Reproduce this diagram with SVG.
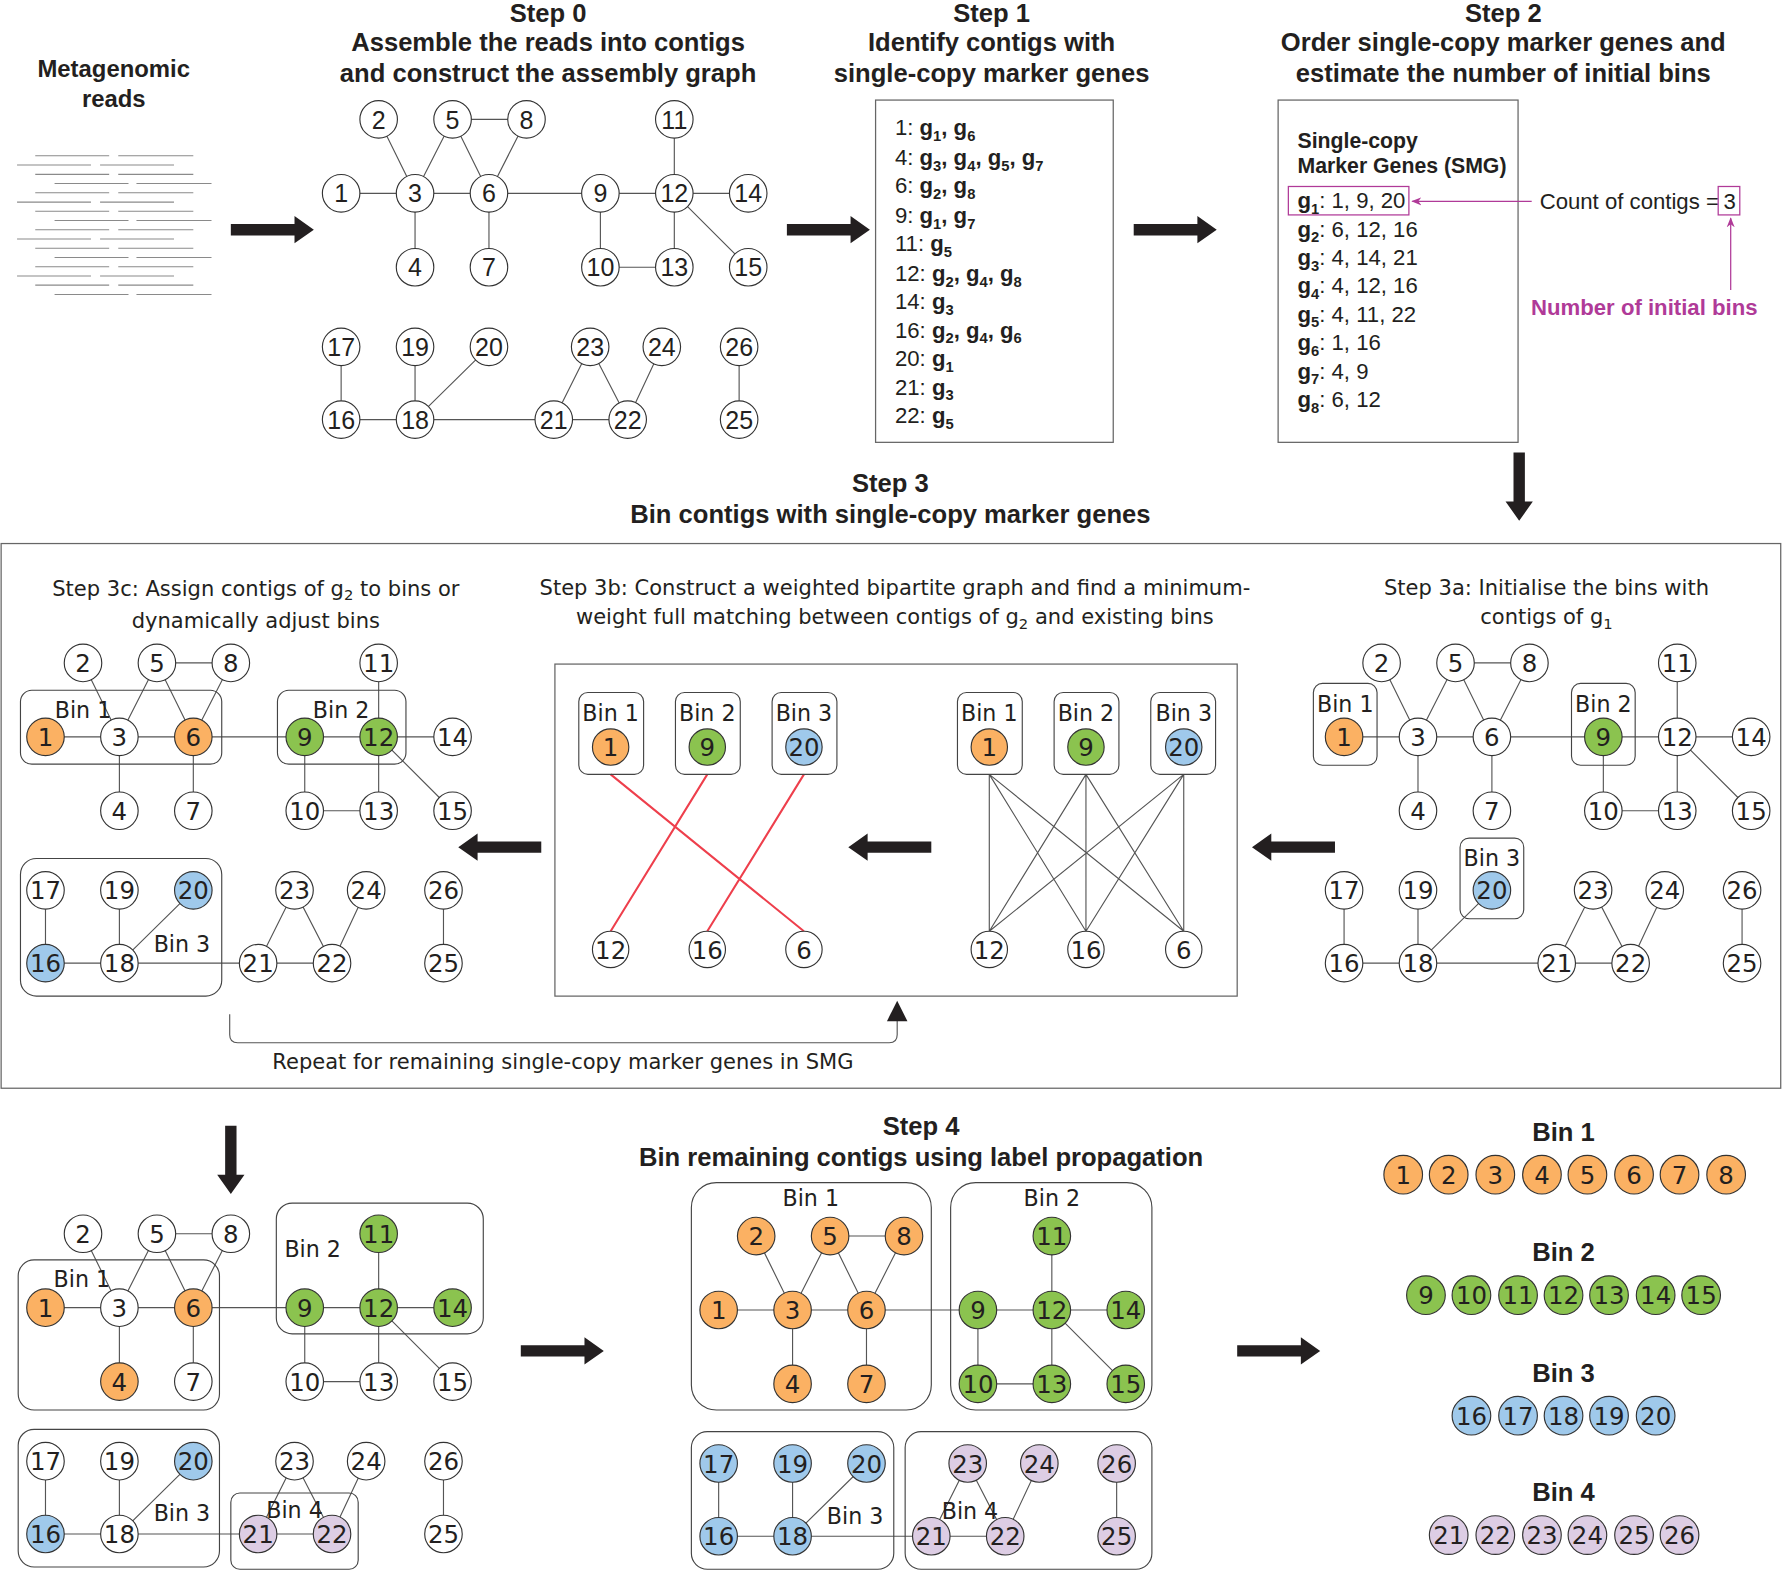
<svg xmlns="http://www.w3.org/2000/svg" width="1783" height="1572" viewBox="0 0 1783 1572">
<style>
.t{font-family:"Liberation Sans",Arial,sans-serif;font-weight:bold;font-size:22.5px;fill:#231f20;text-anchor:middle}
.t21{font-size:21px}
.d{font-family:"DejaVu Sans",sans-serif;font-size:18.5px;fill:#231f20;text-anchor:middle}
.bl{font-family:"DejaVu Sans",sans-serif;font-size:19.5px;fill:#231f20;text-anchor:middle}
.li{font-family:"Liberation Sans",Arial,sans-serif;font-weight:bold;font-size:19.5px;fill:#231f20}
.hd{font-size:18.7px}
.rg{font-weight:normal}
.sb{font-size:13px}
.mt{fill:#b03a98}
.n circle{fill:#fff;stroke:#333;stroke-width:1}
.n text{font-family:"DejaVu Sans",sans-serif;font-size:21.5px;fill:#231f20;text-anchor:middle}
.s0 .n text{font-family:"Liberation Sans",Arial,sans-serif;font-size:22px}
.o circle{fill:#fbb163}
.gr circle{fill:#8bc34f}
.b circle{fill:#9fc9eb}
.p circle{fill:#ddcde4}
.e{fill:none;stroke:#555;stroke-width:1}
.box{fill:none;stroke:#444;stroke-width:1}
.frame{fill:none;stroke:#666;stroke-width:1.1}
.arr{fill:#231f20}
.red{fill:none;stroke:#ee3f4c;stroke-width:1.8}
.mg{fill:none;stroke:#b03a98;stroke-width:1.1}
</style>
<defs>
<path id="edges" d="M33,-65L65,0M98,-65L65,0M98,-65H163M98,-65L130,0M163,-65L130,0M0,0H358M65,0V65M130,0V65M228,0V65M228,65H293M293,-65V65M293,0L358,65M0,135V199M0,199H252M65,135V199M130,135L65,199M219,135L187,199M219,135L252,199M282,135L252,199M350,135V199"/>
<path id="arR" d="M0,-5H56V-12L73,0L56,12V5H0Z"/>
<path id="arD" d="M-5,0V43H-12L0,60L12,43H5V0Z"/>
<marker id="ma" viewBox="0 0 10 10" refX="9" refY="5" markerWidth="8" markerHeight="8" orient="auto"><path d="M0,1L10,5L0,9L3,5Z" fill="#b03a98"/></marker>
</defs>
<rect width="1783" height="1572" fill="#fff"/>
<g transform="scale(1.13712)">

<g id="titles">
<text class="t t21" x="100" y="68">Metagenomic</text>
<text class="t t21" x="100" y="94">reads</text>
<text class="t" x="482" y="19">Step 0</text>
<text class="t" x="482" y="45">Assemble the reads into contigs</text>
<text class="t" x="482" y="72">and construct the assembly graph</text>
<text class="t" x="872" y="19">Step 1</text>
<text class="t" x="872" y="45">Identify contigs with</text>
<text class="t" x="872" y="72">single-copy marker genes</text>
<text class="t" x="1322" y="19">Step 2</text>
<text class="t" x="1322" y="45">Order single-copy marker genes and</text>
<text class="t" x="1322" y="72">estimate the number of initial bins</text>
<text class="t" x="783" y="433">Step 3</text>
<text class="t" x="783" y="460">Bin contigs with single-copy marker genes</text>
<text class="t" x="810" y="998">Step 4</text>
<text class="t" x="810" y="1025">Bin remaining contigs using label propagation</text>
<text class="d" x="225" y="524">Step 3c: Assign contigs of g<tspan class="sb" dy="4">2</tspan><tspan dy="-4"> to bins or</tspan></text>
<text class="d" x="225" y="552">dynamically adjust bins</text>
<text class="d" x="787" y="523">Step 3b: Construct a weighted bipartite graph and find a minimum-</text>
<text class="d" x="787" y="549">weight full matching between contigs of g<tspan class="sb" dy="4">2</tspan><tspan dy="-4"> and existing bins</tspan></text>
<text class="d" x="1360" y="523">Step 3a: Initialise the bins with</text>
<text class="d" x="1360" y="549">contigs of g<tspan class="sb" dy="4">1</tspan></text>
<text class="d" x="495" y="940">Repeat for remaining single-copy marker genes in SMG</text>
</g>

<g id="reads" fill="none" stroke="#8a8a8a" stroke-width="1">
<path d="M31,137H96M104,137H170M15,145.1H80M88,145.1H153M31,153.3H96M104,153.3H170M48,161.4H113M120,161.4H186M31,169.5H96M104,169.5H170M15,177.7H80M88,177.7H153M31,185.8H96M104,185.8H170M48,193.9H113M120,193.9H186M31,202H96M104,202H170M15,210.2H80M88,210.2H153M31,218.3H96M104,218.3H170M48,226.4H113M120,226.4H186M31,234.6H96M104,234.6H170M15,242.7H80M88,242.7H153M31,250.8H96M104,250.8H170M48,259H113M120,259H186"/>
</g>

<g id="frames">
<rect class="frame" x="770" y="88" width="209" height="301"/>
<rect class="frame" x="1124" y="88" width="211" height="301"/>
<rect class="frame" x="1" y="478" width="1565" height="479"/>
<rect class="frame" x="488" y="584" width="600" height="292"/>
</g>

<g id="step1-list">
<text class="li" x="787" y="119"><tspan class="rg">1: </tspan>g<tspan class="sb" dy="5">1</tspan><tspan dy="-5">, g</tspan><tspan class="sb" dy="5">6</tspan></text>
<text class="li" x="787" y="145"><tspan class="rg">4: </tspan>g<tspan class="sb" dy="5">3</tspan><tspan dy="-5">, g</tspan><tspan class="sb" dy="5">4</tspan><tspan dy="-5">, g</tspan><tspan class="sb" dy="5">5</tspan><tspan dy="-5">, g</tspan><tspan class="sb" dy="5">7</tspan></text>
<text class="li" x="787" y="170"><tspan class="rg">6: </tspan>g<tspan class="sb" dy="5">2</tspan><tspan dy="-5">, g</tspan><tspan class="sb" dy="5">8</tspan></text>
<text class="li" x="787" y="196"><tspan class="rg">9: </tspan>g<tspan class="sb" dy="5">1</tspan><tspan dy="-5">, g</tspan><tspan class="sb" dy="5">7</tspan></text>
<text class="li" x="787" y="221"><tspan class="rg">11: </tspan>g<tspan class="sb" dy="5">5</tspan></text>
<text class="li" x="787" y="247"><tspan class="rg">12: </tspan>g<tspan class="sb" dy="5">2</tspan><tspan dy="-5">, g</tspan><tspan class="sb" dy="5">4</tspan><tspan dy="-5">, g</tspan><tspan class="sb" dy="5">8</tspan></text>
<text class="li" x="787" y="272"><tspan class="rg">14: </tspan>g<tspan class="sb" dy="5">3</tspan></text>
<text class="li" x="787" y="297"><tspan class="rg">16: </tspan>g<tspan class="sb" dy="5">2</tspan><tspan dy="-5">, g</tspan><tspan class="sb" dy="5">4</tspan><tspan dy="-5">, g</tspan><tspan class="sb" dy="5">6</tspan></text>
<text class="li" x="787" y="322"><tspan class="rg">20: </tspan>g<tspan class="sb" dy="5">1</tspan></text>
<text class="li" x="787" y="347"><tspan class="rg">21: </tspan>g<tspan class="sb" dy="5">3</tspan></text>
<text class="li" x="787" y="372"><tspan class="rg">22: </tspan>g<tspan class="sb" dy="5">5</tspan></text>
</g>

<g id="step2-list">
<text class="li hd" x="1141" y="130">Single-copy</text>
<text class="li hd" x="1141" y="152">Marker Genes (SMG)</text>
<text class="li" x="1141" y="183">g<tspan class="sb" dy="5">1</tspan><tspan class="rg" dy="-5">: 1, 9, 20</tspan></text>
<text class="li" x="1141" y="208">g<tspan class="sb" dy="5">2</tspan><tspan class="rg" dy="-5">: 6, 12, 16</tspan></text>
<text class="li" x="1141" y="233">g<tspan class="sb" dy="5">3</tspan><tspan class="rg" dy="-5">: 4, 14, 21</tspan></text>
<text class="li" x="1141" y="258">g<tspan class="sb" dy="5">4</tspan><tspan class="rg" dy="-5">: 4, 12, 16</tspan></text>
<text class="li" x="1141" y="283">g<tspan class="sb" dy="5">5</tspan><tspan class="rg" dy="-5">: 4, 11, 22</tspan></text>
<text class="li" x="1141" y="308">g<tspan class="sb" dy="5">6</tspan><tspan class="rg" dy="-5">: 1, 16</tspan></text>
<text class="li" x="1141" y="333">g<tspan class="sb" dy="5">7</tspan><tspan class="rg" dy="-5">: 4, 9</tspan></text>
<text class="li" x="1141" y="358">g<tspan class="sb" dy="5">8</tspan><tspan class="rg" dy="-5">: 6, 12</tspan></text>
<rect class="mg" x="1133" y="164" width="106" height="25"/>
<text class="li rg" x="1354" y="184">Count of contigs =</text>
<rect class="mg" x="1511" y="164" width="19" height="25"/>
<text class="li rg" x="1521" y="184" text-anchor="middle">3</text>
<text class="li mt" x="1446" y="277" text-anchor="middle">Number of initial bins</text>
</g>

<g id="connectors">
<use href="#edges" class="e" x="300" y="170"/>
<use href="#edges" class="e" x="1182" y="648"/>
<use href="#edges" class="e" x="40" y="648"/>
<use href="#edges" class="e" x="40" y="1150"/>
<use href="#edges" class="e" x="632" y="1152"/>
<path class="e" d="M870,681L870,819M870,681L955,819M870,681L1041,819M955,681L870,819M955,681L955,819M955,681L1041,819M1041,681L870,819M1041,681L955,819M1041,681L1041,819"/>
<path class="red" d="M537,681L707,819M622,681L537,819M707,681L622,819"/>
<path class="e" d="M202,892V910Q202,917 209,917H782Q789,917 789,910V897"/>
<path class="arr" d="M780,898L798,898L789,880Z"/>
<line class="mg" x1="1347" y1="177" x2="1242" y2="177" marker-end="url(#ma)"/>
<line class="mg" x1="1522" y1="255" x2="1522" y2="192" marker-end="url(#ma)"/>
<use href="#arR" class="arr" x="203" y="202"/>
<use href="#arR" class="arr" x="692" y="202"/>
<use href="#arR" class="arr" x="997" y="202"/>
<use href="#arD" class="arr" x="1336" y="398"/>
<use href="#arR" class="arr" transform="translate(476,745) rotate(180)"/>
<use href="#arR" class="arr" transform="translate(819,745) rotate(180)"/>
<use href="#arR" class="arr" transform="translate(1174,745) rotate(180)"/>
<use href="#arD" class="arr" x="203" y="990"/>
<use href="#arR" class="arr" x="458" y="1188"/>
<use href="#arR" class="arr" x="1088" y="1188"/>
</g>

<g id="bin-boxes">
<g transform="translate(40,648)">
<rect class="box" x="-22" y="-41" width="177" height="65" rx="10"/>
<rect class="box" x="204" y="-41" width="113" height="65" rx="10"/>
<rect class="box" x="-22" y="107" width="177" height="121" rx="14"/>
<text class="bl" x="33" y="-17">Bin 1</text>
<text class="bl" x="260" y="-17">Bin 2</text>
<text class="bl" x="120" y="189">Bin 3</text>
</g>
<g transform="translate(1182,648)">
<rect class="box" x="-27" y="-47" width="56" height="72" rx="8"/>
<rect class="box" x="200" y="-47" width="56" height="72" rx="8"/>
<rect class="box" x="102" y="89" width="56" height="71" rx="8"/>
<text class="bl" x="1" y="-22">Bin 1</text>
<text class="bl" x="228" y="-22">Bin 2</text>
<text class="bl" x="130" y="114">Bin 3</text>
</g>
<g transform="translate(40,1150)">
<rect class="box" x="-24" y="-42" width="177" height="132" rx="14"/>
<rect class="box" x="203" y="-92" width="182" height="115" rx="14"/>
<rect class="box" x="-24" y="107" width="177" height="121" rx="14"/>
<rect class="box" x="163" y="163" width="112" height="67" rx="8"/>
<text class="bl" x="32" y="-18">Bin 1</text>
<text class="bl" x="235" y="-45">Bin 2</text>
<text class="bl" x="120" y="188">Bin 3</text>
<text class="bl" x="219" y="185">Bin 4</text>
</g>
<g transform="translate(632,1152)">
<rect class="box" x="-24" y="-112" width="211" height="200" rx="22"/>
<rect class="box" x="204" y="-112" width="177" height="200" rx="22"/>
<rect class="box" x="-24" y="107" width="178" height="121" rx="14"/>
<rect class="box" x="164" y="107" width="217" height="121" rx="14"/>
<text class="bl" x="81" y="-91">Bin 1</text>
<text class="bl" x="293" y="-91">Bin 2</text>
<text class="bl" x="120" y="188">Bin 3</text>
<text class="bl" x="221" y="184">Bin 4</text>
</g>
<rect class="box" x="509" y="609" width="57" height="72" rx="8"/>
<rect class="box" x="594" y="609" width="57" height="72" rx="8"/>
<rect class="box" x="679" y="609" width="57" height="72" rx="8"/>
<rect class="box" x="842" y="609" width="57" height="72" rx="8"/>
<rect class="box" x="927" y="609" width="57" height="72" rx="8"/>
<rect class="box" x="1012" y="609" width="57" height="72" rx="8"/>
<text class="bl" x="537" y="634">Bin 1</text>
<text class="bl" x="622" y="634">Bin 2</text>
<text class="bl" x="707" y="634">Bin 3</text>
<text class="bl" x="870" y="634">Bin 1</text>
<text class="bl" x="955" y="634">Bin 2</text>
<text class="bl" x="1041" y="634">Bin 3</text>
<text class="t" x="1375" y="1003">Bin 1</text>
<text class="t" x="1375" y="1109">Bin 2</text>
<text class="t" x="1375" y="1215">Bin 3</text>
<text class="t" x="1375" y="1320">Bin 4</text>
</g>

<g id="step0-nodes" class="s0" transform="translate(300,170)">
<g id="s0-1" class="n" transform="translate(0,0)"><circle r="16.5"/><text y="8">1</text></g>
<g id="s0-2" class="n" transform="translate(33,-65)"><circle r="16.5"/><text y="8">2</text></g>
<g id="s0-3" class="n" transform="translate(65,0)"><circle r="16.5"/><text y="8">3</text></g>
<g id="s0-4" class="n" transform="translate(65,65)"><circle r="16.5"/><text y="8">4</text></g>
<g id="s0-5" class="n" transform="translate(98,-65)"><circle r="16.5"/><text y="8">5</text></g>
<g id="s0-6" class="n" transform="translate(130,0)"><circle r="16.5"/><text y="8">6</text></g>
<g id="s0-7" class="n" transform="translate(130,65)"><circle r="16.5"/><text y="8">7</text></g>
<g id="s0-8" class="n" transform="translate(163,-65)"><circle r="16.5"/><text y="8">8</text></g>
<g id="s0-9" class="n" transform="translate(228,0)"><circle r="16.5"/><text y="8">9</text></g>
<g id="s0-10" class="n" transform="translate(228,65)"><circle r="16.5"/><text y="8">10</text></g>
<g id="s0-11" class="n" transform="translate(293,-65)"><circle r="16.5"/><text y="8">11</text></g>
<g id="s0-12" class="n" transform="translate(293,0)"><circle r="16.5"/><text y="8">12</text></g>
<g id="s0-13" class="n" transform="translate(293,65)"><circle r="16.5"/><text y="8">13</text></g>
<g id="s0-14" class="n" transform="translate(358,0)"><circle r="16.5"/><text y="8">14</text></g>
<g id="s0-15" class="n" transform="translate(358,65)"><circle r="16.5"/><text y="8">15</text></g>
<g id="s0-16" class="n" transform="translate(0,199)"><circle r="16.5"/><text y="8">16</text></g>
<g id="s0-17" class="n" transform="translate(0,135)"><circle r="16.5"/><text y="8">17</text></g>
<g id="s0-18" class="n" transform="translate(65,199)"><circle r="16.5"/><text y="8">18</text></g>
<g id="s0-19" class="n" transform="translate(65,135)"><circle r="16.5"/><text y="8">19</text></g>
<g id="s0-20" class="n" transform="translate(130,135)"><circle r="16.5"/><text y="8">20</text></g>
<g id="s0-21" class="n" transform="translate(187,199)"><circle r="16.5"/><text y="8">21</text></g>
<g id="s0-22" class="n" transform="translate(252,199)"><circle r="16.5"/><text y="8">22</text></g>
<g id="s0-23" class="n" transform="translate(219,135)"><circle r="16.5"/><text y="8">23</text></g>
<g id="s0-24" class="n" transform="translate(282,135)"><circle r="16.5"/><text y="8">24</text></g>
<g id="s0-25" class="n" transform="translate(350,199)"><circle r="16.5"/><text y="8">25</text></g>
<g id="s0-26" class="n" transform="translate(350,135)"><circle r="16.5"/><text y="8">26</text></g>
</g>

<g id="step3a-nodes" transform="translate(1182,648)">
<g id="s3a-1" class="n o" transform="translate(0,0)"><circle r="16.5"/><text y="8">1</text></g>
<g id="s3a-2" class="n" transform="translate(33,-65)"><circle r="16.5"/><text y="8">2</text></g>
<g id="s3a-3" class="n" transform="translate(65,0)"><circle r="16.5"/><text y="8">3</text></g>
<g id="s3a-4" class="n" transform="translate(65,65)"><circle r="16.5"/><text y="8">4</text></g>
<g id="s3a-5" class="n" transform="translate(98,-65)"><circle r="16.5"/><text y="8">5</text></g>
<g id="s3a-6" class="n" transform="translate(130,0)"><circle r="16.5"/><text y="8">6</text></g>
<g id="s3a-7" class="n" transform="translate(130,65)"><circle r="16.5"/><text y="8">7</text></g>
<g id="s3a-8" class="n" transform="translate(163,-65)"><circle r="16.5"/><text y="8">8</text></g>
<g id="s3a-9" class="n gr" transform="translate(228,0)"><circle r="16.5"/><text y="8">9</text></g>
<g id="s3a-10" class="n" transform="translate(228,65)"><circle r="16.5"/><text y="8">10</text></g>
<g id="s3a-11" class="n" transform="translate(293,-65)"><circle r="16.5"/><text y="8">11</text></g>
<g id="s3a-12" class="n" transform="translate(293,0)"><circle r="16.5"/><text y="8">12</text></g>
<g id="s3a-13" class="n" transform="translate(293,65)"><circle r="16.5"/><text y="8">13</text></g>
<g id="s3a-14" class="n" transform="translate(358,0)"><circle r="16.5"/><text y="8">14</text></g>
<g id="s3a-15" class="n" transform="translate(358,65)"><circle r="16.5"/><text y="8">15</text></g>
<g id="s3a-16" class="n" transform="translate(0,199)"><circle r="16.5"/><text y="8">16</text></g>
<g id="s3a-17" class="n" transform="translate(0,135)"><circle r="16.5"/><text y="8">17</text></g>
<g id="s3a-18" class="n" transform="translate(65,199)"><circle r="16.5"/><text y="8">18</text></g>
<g id="s3a-19" class="n" transform="translate(65,135)"><circle r="16.5"/><text y="8">19</text></g>
<g id="s3a-20" class="n b" transform="translate(130,135)"><circle r="16.5"/><text y="8">20</text></g>
<g id="s3a-21" class="n" transform="translate(187,199)"><circle r="16.5"/><text y="8">21</text></g>
<g id="s3a-22" class="n" transform="translate(252,199)"><circle r="16.5"/><text y="8">22</text></g>
<g id="s3a-23" class="n" transform="translate(219,135)"><circle r="16.5"/><text y="8">23</text></g>
<g id="s3a-24" class="n" transform="translate(282,135)"><circle r="16.5"/><text y="8">24</text></g>
<g id="s3a-25" class="n" transform="translate(350,199)"><circle r="16.5"/><text y="8">25</text></g>
<g id="s3a-26" class="n" transform="translate(350,135)"><circle r="16.5"/><text y="8">26</text></g>
</g>

<g id="step3c-nodes" transform="translate(40,648)">
<g id="s3c-1" class="n o" transform="translate(0,0)"><circle r="16.5"/><text y="8">1</text></g>
<g id="s3c-2" class="n" transform="translate(33,-65)"><circle r="16.5"/><text y="8">2</text></g>
<g id="s3c-3" class="n" transform="translate(65,0)"><circle r="16.5"/><text y="8">3</text></g>
<g id="s3c-4" class="n" transform="translate(65,65)"><circle r="16.5"/><text y="8">4</text></g>
<g id="s3c-5" class="n" transform="translate(98,-65)"><circle r="16.5"/><text y="8">5</text></g>
<g id="s3c-6" class="n o" transform="translate(130,0)"><circle r="16.5"/><text y="8">6</text></g>
<g id="s3c-7" class="n" transform="translate(130,65)"><circle r="16.5"/><text y="8">7</text></g>
<g id="s3c-8" class="n" transform="translate(163,-65)"><circle r="16.5"/><text y="8">8</text></g>
<g id="s3c-9" class="n gr" transform="translate(228,0)"><circle r="16.5"/><text y="8">9</text></g>
<g id="s3c-10" class="n" transform="translate(228,65)"><circle r="16.5"/><text y="8">10</text></g>
<g id="s3c-11" class="n" transform="translate(293,-65)"><circle r="16.5"/><text y="8">11</text></g>
<g id="s3c-12" class="n gr" transform="translate(293,0)"><circle r="16.5"/><text y="8">12</text></g>
<g id="s3c-13" class="n" transform="translate(293,65)"><circle r="16.5"/><text y="8">13</text></g>
<g id="s3c-14" class="n" transform="translate(358,0)"><circle r="16.5"/><text y="8">14</text></g>
<g id="s3c-15" class="n" transform="translate(358,65)"><circle r="16.5"/><text y="8">15</text></g>
<g id="s3c-16" class="n b" transform="translate(0,199)"><circle r="16.5"/><text y="8">16</text></g>
<g id="s3c-17" class="n" transform="translate(0,135)"><circle r="16.5"/><text y="8">17</text></g>
<g id="s3c-18" class="n" transform="translate(65,199)"><circle r="16.5"/><text y="8">18</text></g>
<g id="s3c-19" class="n" transform="translate(65,135)"><circle r="16.5"/><text y="8">19</text></g>
<g id="s3c-20" class="n b" transform="translate(130,135)"><circle r="16.5"/><text y="8">20</text></g>
<g id="s3c-21" class="n" transform="translate(187,199)"><circle r="16.5"/><text y="8">21</text></g>
<g id="s3c-22" class="n" transform="translate(252,199)"><circle r="16.5"/><text y="8">22</text></g>
<g id="s3c-23" class="n" transform="translate(219,135)"><circle r="16.5"/><text y="8">23</text></g>
<g id="s3c-24" class="n" transform="translate(282,135)"><circle r="16.5"/><text y="8">24</text></g>
<g id="s3c-25" class="n" transform="translate(350,199)"><circle r="16.5"/><text y="8">25</text></g>
<g id="s3c-26" class="n" transform="translate(350,135)"><circle r="16.5"/><text y="8">26</text></g>
</g>

<g id="step3r-nodes" transform="translate(40,1150)">
<g id="s3r-1" class="n o" transform="translate(0,0)"><circle r="16.5"/><text y="8">1</text></g>
<g id="s3r-2" class="n" transform="translate(33,-65)"><circle r="16.5"/><text y="8">2</text></g>
<g id="s3r-3" class="n" transform="translate(65,0)"><circle r="16.5"/><text y="8">3</text></g>
<g id="s3r-4" class="n o" transform="translate(65,65)"><circle r="16.5"/><text y="8">4</text></g>
<g id="s3r-5" class="n" transform="translate(98,-65)"><circle r="16.5"/><text y="8">5</text></g>
<g id="s3r-6" class="n o" transform="translate(130,0)"><circle r="16.5"/><text y="8">6</text></g>
<g id="s3r-7" class="n" transform="translate(130,65)"><circle r="16.5"/><text y="8">7</text></g>
<g id="s3r-8" class="n" transform="translate(163,-65)"><circle r="16.5"/><text y="8">8</text></g>
<g id="s3r-9" class="n gr" transform="translate(228,0)"><circle r="16.5"/><text y="8">9</text></g>
<g id="s3r-10" class="n" transform="translate(228,65)"><circle r="16.5"/><text y="8">10</text></g>
<g id="s3r-11" class="n gr" transform="translate(293,-65)"><circle r="16.5"/><text y="8">11</text></g>
<g id="s3r-12" class="n gr" transform="translate(293,0)"><circle r="16.5"/><text y="8">12</text></g>
<g id="s3r-13" class="n" transform="translate(293,65)"><circle r="16.5"/><text y="8">13</text></g>
<g id="s3r-14" class="n gr" transform="translate(358,0)"><circle r="16.5"/><text y="8">14</text></g>
<g id="s3r-15" class="n" transform="translate(358,65)"><circle r="16.5"/><text y="8">15</text></g>
<g id="s3r-16" class="n b" transform="translate(0,199)"><circle r="16.5"/><text y="8">16</text></g>
<g id="s3r-17" class="n" transform="translate(0,135)"><circle r="16.5"/><text y="8">17</text></g>
<g id="s3r-18" class="n" transform="translate(65,199)"><circle r="16.5"/><text y="8">18</text></g>
<g id="s3r-19" class="n" transform="translate(65,135)"><circle r="16.5"/><text y="8">19</text></g>
<g id="s3r-20" class="n b" transform="translate(130,135)"><circle r="16.5"/><text y="8">20</text></g>
<g id="s3r-21" class="n p" transform="translate(187,199)"><circle r="16.5"/><text y="8">21</text></g>
<g id="s3r-22" class="n p" transform="translate(252,199)"><circle r="16.5"/><text y="8">22</text></g>
<g id="s3r-23" class="n" transform="translate(219,135)"><circle r="16.5"/><text y="8">23</text></g>
<g id="s3r-24" class="n" transform="translate(282,135)"><circle r="16.5"/><text y="8">24</text></g>
<g id="s3r-25" class="n" transform="translate(350,199)"><circle r="16.5"/><text y="8">25</text></g>
<g id="s3r-26" class="n" transform="translate(350,135)"><circle r="16.5"/><text y="8">26</text></g>
</g>

<g id="step4-nodes" transform="translate(632,1152)">
<g id="s4-1" class="n o" transform="translate(0,0)"><circle r="16.5"/><text y="8">1</text></g>
<g id="s4-2" class="n o" transform="translate(33,-65)"><circle r="16.5"/><text y="8">2</text></g>
<g id="s4-3" class="n o" transform="translate(65,0)"><circle r="16.5"/><text y="8">3</text></g>
<g id="s4-4" class="n o" transform="translate(65,65)"><circle r="16.5"/><text y="8">4</text></g>
<g id="s4-5" class="n o" transform="translate(98,-65)"><circle r="16.5"/><text y="8">5</text></g>
<g id="s4-6" class="n o" transform="translate(130,0)"><circle r="16.5"/><text y="8">6</text></g>
<g id="s4-7" class="n o" transform="translate(130,65)"><circle r="16.5"/><text y="8">7</text></g>
<g id="s4-8" class="n o" transform="translate(163,-65)"><circle r="16.5"/><text y="8">8</text></g>
<g id="s4-9" class="n gr" transform="translate(228,0)"><circle r="16.5"/><text y="8">9</text></g>
<g id="s4-10" class="n gr" transform="translate(228,65)"><circle r="16.5"/><text y="8">10</text></g>
<g id="s4-11" class="n gr" transform="translate(293,-65)"><circle r="16.5"/><text y="8">11</text></g>
<g id="s4-12" class="n gr" transform="translate(293,0)"><circle r="16.5"/><text y="8">12</text></g>
<g id="s4-13" class="n gr" transform="translate(293,65)"><circle r="16.5"/><text y="8">13</text></g>
<g id="s4-14" class="n gr" transform="translate(358,0)"><circle r="16.5"/><text y="8">14</text></g>
<g id="s4-15" class="n gr" transform="translate(358,65)"><circle r="16.5"/><text y="8">15</text></g>
<g id="s4-16" class="n b" transform="translate(0,199)"><circle r="16.5"/><text y="8">16</text></g>
<g id="s4-17" class="n b" transform="translate(0,135)"><circle r="16.5"/><text y="8">17</text></g>
<g id="s4-18" class="n b" transform="translate(65,199)"><circle r="16.5"/><text y="8">18</text></g>
<g id="s4-19" class="n b" transform="translate(65,135)"><circle r="16.5"/><text y="8">19</text></g>
<g id="s4-20" class="n b" transform="translate(130,135)"><circle r="16.5"/><text y="8">20</text></g>
<g id="s4-21" class="n p" transform="translate(187,199)"><circle r="16.5"/><text y="8">21</text></g>
<g id="s4-22" class="n p" transform="translate(252,199)"><circle r="16.5"/><text y="8">22</text></g>
<g id="s4-23" class="n p" transform="translate(219,135)"><circle r="16.5"/><text y="8">23</text></g>
<g id="s4-24" class="n p" transform="translate(282,135)"><circle r="16.5"/><text y="8">24</text></g>
<g id="s4-25" class="n p" transform="translate(350,199)"><circle r="16.5"/><text y="8">25</text></g>
<g id="s4-26" class="n p" transform="translate(350,135)"><circle r="16.5"/><text y="8">26</text></g>
</g>

<g id="step3b-nodes">
<g id="b1-bin1" class="n o" transform="translate(537,657)"><circle r="16"/><text y="8">1</text></g>
<g id="b1-bin2" class="n gr" transform="translate(622,657)"><circle r="16"/><text y="8">9</text></g>
<g id="b1-bin3" class="n b" transform="translate(707,657)"><circle r="16"/><text y="8">20</text></g>
<g id="b1-12" class="n" transform="translate(537,835)"><circle r="16"/><text y="8">12</text></g>
<g id="b1-16" class="n" transform="translate(622,835)"><circle r="16"/><text y="8">16</text></g>
<g id="b1-6" class="n" transform="translate(707,835)"><circle r="16"/><text y="8">6</text></g>
<g id="b2-bin1" class="n o" transform="translate(870,657)"><circle r="16"/><text y="8">1</text></g>
<g id="b2-bin2" class="n gr" transform="translate(955,657)"><circle r="16"/><text y="8">9</text></g>
<g id="b2-bin3" class="n b" transform="translate(1041,657)"><circle r="16"/><text y="8">20</text></g>
<g id="b2-12" class="n" transform="translate(870,835)"><circle r="16"/><text y="8">12</text></g>
<g id="b2-16" class="n" transform="translate(955,835)"><circle r="16"/><text y="8">16</text></g>
<g id="b2-6" class="n" transform="translate(1041,835)"><circle r="16"/><text y="8">6</text></g>
</g>

<g id="final-bins">
<g id="f1" class="n o" transform="translate(1234,1033)"><circle r="17"/><text y="8">1</text></g>
<g id="f2" class="n o" transform="translate(1274,1033)"><circle r="17"/><text y="8">2</text></g>
<g id="f3" class="n o" transform="translate(1315,1033)"><circle r="17"/><text y="8">3</text></g>
<g id="f4" class="n o" transform="translate(1356,1033)"><circle r="17"/><text y="8">4</text></g>
<g id="f5" class="n o" transform="translate(1396,1033)"><circle r="17"/><text y="8">5</text></g>
<g id="f6" class="n o" transform="translate(1437,1033)"><circle r="17"/><text y="8">6</text></g>
<g id="f7" class="n o" transform="translate(1477,1033)"><circle r="17"/><text y="8">7</text></g>
<g id="f8" class="n o" transform="translate(1518,1033)"><circle r="17"/><text y="8">8</text></g>
<g id="f9" class="n gr" transform="translate(1254,1139)"><circle r="17"/><text y="8">9</text></g>
<g id="f10" class="n gr" transform="translate(1294,1139)"><circle r="17"/><text y="8">10</text></g>
<g id="f11" class="n gr" transform="translate(1335,1139)"><circle r="17"/><text y="8">11</text></g>
<g id="f12" class="n gr" transform="translate(1375,1139)"><circle r="17"/><text y="8">12</text></g>
<g id="f13" class="n gr" transform="translate(1415,1139)"><circle r="17"/><text y="8">13</text></g>
<g id="f14" class="n gr" transform="translate(1456,1139)"><circle r="17"/><text y="8">14</text></g>
<g id="f15" class="n gr" transform="translate(1496,1139)"><circle r="17"/><text y="8">15</text></g>
<g id="f16" class="n b" transform="translate(1294,1245)"><circle r="17"/><text y="8">16</text></g>
<g id="f17" class="n b" transform="translate(1335,1245)"><circle r="17"/><text y="8">17</text></g>
<g id="f18" class="n b" transform="translate(1375,1245)"><circle r="17"/><text y="8">18</text></g>
<g id="f19" class="n b" transform="translate(1415,1245)"><circle r="17"/><text y="8">19</text></g>
<g id="f20" class="n b" transform="translate(1456,1245)"><circle r="17"/><text y="8">20</text></g>
<g id="f21" class="n p" transform="translate(1274,1350)"><circle r="17"/><text y="8">21</text></g>
<g id="f22" class="n p" transform="translate(1315,1350)"><circle r="17"/><text y="8">22</text></g>
<g id="f23" class="n p" transform="translate(1356,1350)"><circle r="17"/><text y="8">23</text></g>
<g id="f24" class="n p" transform="translate(1396,1350)"><circle r="17"/><text y="8">24</text></g>
<g id="f25" class="n p" transform="translate(1437,1350)"><circle r="17"/><text y="8">25</text></g>
<g id="f26" class="n p" transform="translate(1477,1350)"><circle r="17"/><text y="8">26</text></g>
</g>

</g>
</svg>
